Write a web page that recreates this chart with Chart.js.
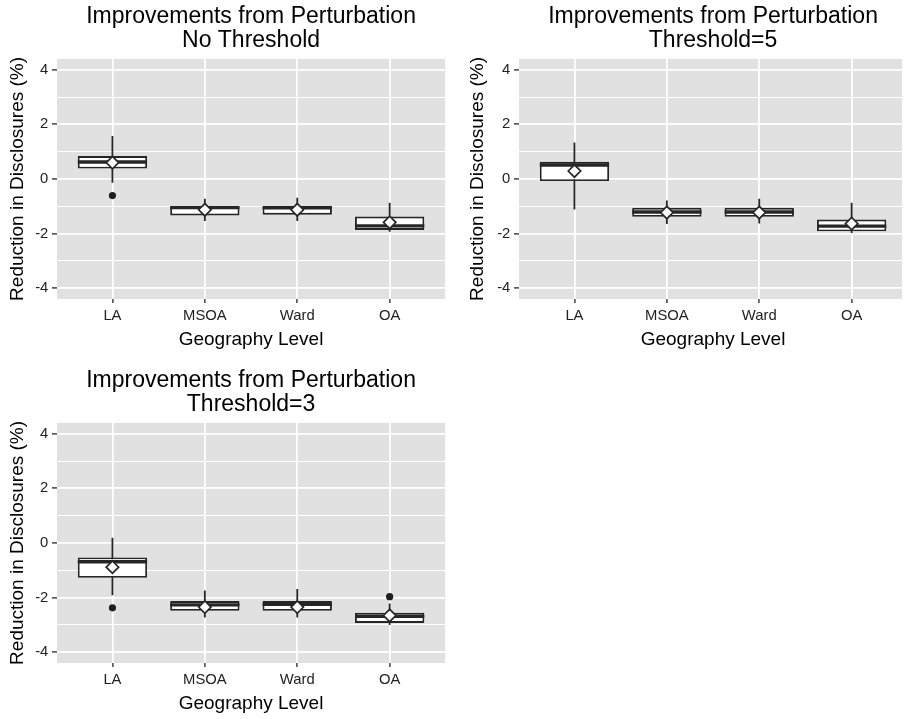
<!DOCTYPE html>
<html>
<head>
<meta charset="utf-8">
<title>Improvements from Perturbation</title>
<script src="https://cdn.jsdelivr.net/npm/chart.js@4.4.0/dist/chart.umd.min.js"></script>
<style>
    html, body { margin: 0; padding: 0; background: #fff; overflow: hidden; }
    .panel { position: absolute; overflow: hidden; }
    .panel canvas { display: block; }
    #panel-none { left: 0; top: 0; width: 453px; height: 355px; }
    #panel-t5 { left: 453px; top: 0; width: 449px; height: 355px; }
    #panel-t3 { left: 0; top: 364px; width: 453px; height: 355px; }
</style>
</head>
<body>
<div class="panel" id="panel-none"><canvas id="chart-none" width="453" height="355"></canvas></div>
<div class="panel" id="panel-t5"><canvas id="chart-t5" width="462" height="355"></canvas></div>
<div class="panel" id="panel-t3"><canvas id="chart-t3" width="453" height="355"></canvas></div>
<script>
// Categories and axis breaks
const geographyLevels = ['LA', 'MSOA', 'Ward', 'OA'];
const yBreaks = [-4, -3, -2, -1, 0, 1, 2, 3, 4];   // odd values = minor grid

// No threshold
const lowNone    = [-0.14, -1.54, -1.54, -1.94];
const q1None     = [0.38, -1.34, -1.31, -1.87];
const medianNone = [0.62, -1.05, -1.06, -1.72];
const q3None     = [0.84, -1.00, -0.99, -1.38];
const highNone   = [1.57, -0.73, -0.69, -0.87];
const meanNone   = [0.60, -1.13, -1.13, -1.59];
const outNone    = [[-0.61], [], [], []];

// Threshold = 5
const lowT5    = [-1.12, -1.65, -1.63, -1.98];
const q1T5     = [-0.08, -1.39, -1.39, -1.92];
const medianT5 = [0.51, -1.21, -1.21, -1.73];
const q3T5     = [0.63, -1.06, -1.06, -1.49];
const highT5   = [1.33, -0.79, -0.73, -0.87];
const meanT5   = [0.29, -1.23, -1.23, -1.64];
const outT5    = [[], [], [], []];

// Threshold = 3
const lowT3    = [-1.92, -2.73, -2.73, -3.01];
const q1T3     = [-1.28, -2.49, -2.49, -2.93];
const medianT3 = [-0.69, -2.27, -2.25, -2.69];
const q3T3     = [-0.53, -2.13, -2.13, -2.56];
const highT3   = [0.19, -1.74, -1.69, -2.22];
const meanT3   = [-0.89, -2.35, -2.35, -2.66];
const outT3    = [[-2.38], [], [], [-1.97]];

const FONT = '"Liberation Sans", Arial, Helvetica, sans-serif';
const INK = '#262626';
const BOX_WIDTH = 0.75;

// grey panel behind the grid
const panelBackground = {
    id: 'panelBackground',
    beforeDraw(chart) {
        const { ctx, chartArea: a } = chart;
        ctx.save();
        ctx.fillStyle = '#e1e1e1';
        ctx.fillRect(a.left, a.top, a.right - a.left, a.bottom - a.top);
        ctx.restore();
    }
};

// half the box width in pixels, so the median bar spans the box
function halfBox(chart) {
    const x = chart.scales.x;
    return (x.getPixelForValue(1) - x.getPixelForValue(0)) * BOX_WIDTH / 2;
}

const spans = (a, b) => geographyLevels.map((_, i) => ({ x: i, y: [a[i], b[i]] }));
const points = v => geographyLevels.map((_, i) => ({ x: i, y: v[i] }));
const outlierPoints = out => out.flatMap((vals, i) => vals.map(y => ({ x: i, y })));

function makePanel(canvasId, titleLines, s, frame) {
    const ctx = document.getElementById(canvasId).getContext('2d');
    return new Chart(ctx, {
        type: 'bar',
        data: {
            datasets: [
                {   // whiskers
                    data: spans(s.low, s.high),
                    backgroundColor: INK,
                    borderWidth: 0,
                    barThickness: 1.8,
                    grouped: false,
                    inflateAmount: 0,
                    order: 4
                },
                {   // interquartile boxes
                    data: spans(s.q1, s.q3),
                    backgroundColor: '#ffffff',
                    borderColor: INK,
                    borderWidth: 1.9,
                    borderSkipped: false,
                    categoryPercentage: 1,
                    barPercentage: BOX_WIDTH,
                    grouped: false,
                    inflateAmount: 0,
                    order: 3
                },
                {   // medians
                    type: 'scatter',
                    data: points(s.median),
                    pointStyle: 'line',
                    radius: c => halfBox(c.chart),
                    borderColor: INK,
                    borderWidth: 3.4,
                    order: 2
                },
                {   // means
                    type: 'scatter',
                    data: points(s.mean),
                    pointStyle: 'rectRot',
                    radius: 6.2,
                    backgroundColor: '#ffffff',
                    borderColor: INK,
                    borderWidth: 1.7,
                    order: 1
                },
                {   // outliers
                    type: 'scatter',
                    data: outlierPoints(s.out),
                    pointStyle: 'circle',
                    radius: 3.6,
                    backgroundColor: '#1e1e1e',
                    borderWidth: 0,
                    order: 0
                }
            ]
        },
        options: {
            responsive: false,
            animation: false,
            events: [],
            layout: { padding: { left: 0, right: frame.padRight, top: 0, bottom: 0 } },
            plugins: {
                legend: { display: false },
                tooltip: { enabled: false },
                title: {
                    display: true,
                    text: titleLines,
                    fullSize: false,
                    color: '#000',
                    font: { family: FONT, size: 23, weight: 'normal', lineHeight: 1.04 },
                    padding: { top: 5, bottom: 6 }
                }
            },
            scales: {
                x: {
                    type: 'linear',
                    min: -0.6,
                    max: 3.6,
                    offset: false,
                    afterBuildTicks: sc => { sc.ticks = geographyLevels.map((_, i) => ({ value: i })); },
                    afterFit: sc => { sc.height = 56; },
                    border: { display: false },
                    grid: { offset: false, color: '#ffffff', lineWidth: 1.8, tickColor: INK, tickLength: 4, tickWidth: 1.3 },
                    ticks: {
                        autoSkip: false,
                        maxRotation: 0,
                        padding: 3.6,
                        color: '#222',
                        font: { family: FONT, size: 14.8 },
                        callback: v => geographyLevels[v]
                    },
                    title: {
                        display: true,
                        text: 'Geography Level',
                        color: '#000',
                        font: { family: FONT, size: 19, lineHeight: 1.2 },
                        padding: { top: 0, bottom: 3.6 }
                    }
                },
                y: {
                    min: -4.4,
                    max: 4.4,
                    afterBuildTicks: sc => { sc.ticks = yBreaks.map(v => ({ value: v })); },
                    afterFit: sc => { sc.width = frame.yWidth; },
                    border: { display: false },
                    grid: {
                        color: '#ffffff',
                        lineWidth: c => (c.tick && c.tick.value % 2 !== 0 ? 1.0 : 1.8),
                        tickColor: c => (c.tick && c.tick.value % 2 !== 0 ? 'rgba(0,0,0,0)' : INK),
                        tickLength: 5,
                        tickWidth: 1.3
                    },
                    ticks: {
                        padding: 3.7,
                        color: '#222',
                        font: { family: FONT, size: 14.8 },
                        callback: v => (v % 2 === 0 ? String(v) : '')
                    },
                    title: {
                        display: true,
                        text: 'Reduction in Disclosures (%)',
                        color: '#000',
                        font: { family: FONT, size: 19, lineHeight: 1.2 },
                        padding: { top: frame.yTitlePad, bottom: 0 }
                    }
                }
            }
        },
        plugins: [panelBackground]
    });
}

makePanel('chart-none', ['Improvements from Perturbation', 'No Threshold'],
    { low: lowNone, q1: q1None, median: medianNone, q3: q3None, high: highNone, mean: meanNone, out: outNone },
    { yWidth: 57, yTitlePad: 6.6, padRight: 5 });

makePanel('chart-t5', ['Improvements from Perturbation', 'Threshold=5'],
    { low: lowT5, q1: q1T5, median: medianT5, q3: q3T5, high: highT5, mean: meanT5, out: outT5 },
    { yWidth: 66, yTitlePad: 13.6, padRight: 3 });

makePanel('chart-t3', ['Improvements from Perturbation', 'Threshold=3'],
    { low: lowT3, q1: q1T3, median: medianT3, q3: q3T3, high: highT3, mean: meanT3, out: outT3 },
    { yWidth: 57, yTitlePad: 6.6, padRight: 5 });
</script>
</body>
</html>
